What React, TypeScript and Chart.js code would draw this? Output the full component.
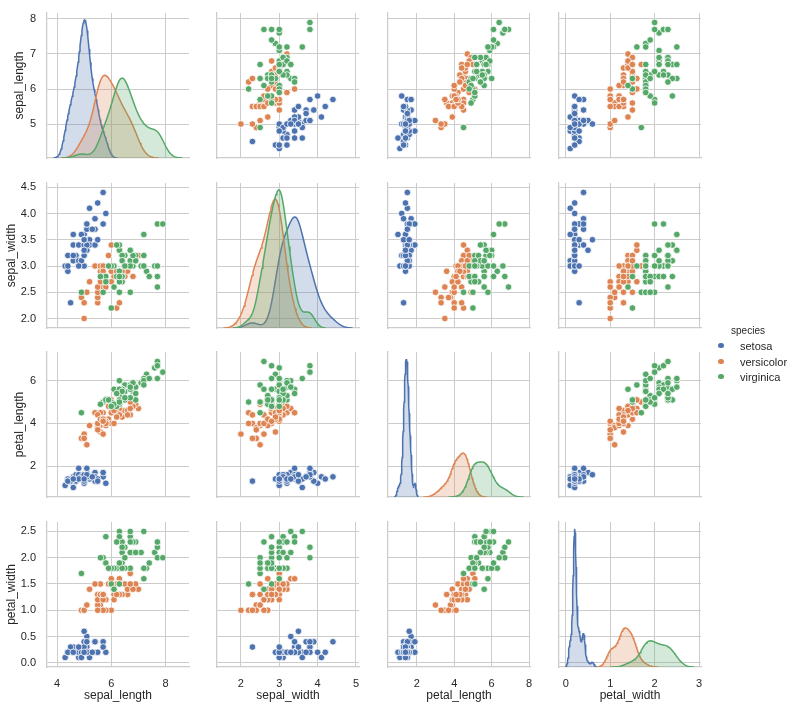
import React, { useEffect, useRef } from 'react';
import { Chart, registerables } from 'chart.js';

Chart.register(...registerables);

// ---------------- DATA ----------------
const SPECIES = ['setosa', 'versicolor', 'virginica'];
const VARIABLES = ['sepal_length', 'sepal_width', 'petal_length', 'petal_width'];
const COLORS = ['#4C72B0', '#DD8452', '#55A868'];
const FILLS = ['rgba(76,114,176,0.25)', 'rgba(221,132,82,0.25)', 'rgba(85,168,104,0.25)'];

const setosaSepalLength = [5.1,4.9,4.7,4.6,5.0,5.4,4.6,5.0,4.4,4.9,5.4,4.8,4.8,4.3,5.8,5.7,5.4,5.1,5.7,5.1,5.4,5.1,4.6,5.1,4.8,5.0,5.0,5.2,5.2,4.7,4.8,5.4,5.2,5.5,4.9,5.0,5.5,4.9,4.4,5.1,5.0,4.5,4.4,5.0,5.1,4.8,5.1,4.6,5.3,5.0];
const setosaSepalWidth = [3.5,3.0,3.2,3.1,3.6,3.9,3.4,3.4,2.9,3.1,3.7,3.4,3.0,3.0,4.0,4.4,3.9,3.5,3.8,3.8,3.4,3.7,3.6,3.3,3.4,3.0,3.4,3.5,3.4,3.2,3.1,3.4,4.1,4.2,3.1,3.2,3.5,3.6,3.0,3.4,3.5,2.3,3.2,3.5,3.8,3.0,3.8,3.2,3.7,3.3];
const setosaPetalLength = [1.4,1.4,1.3,1.5,1.4,1.7,1.4,1.5,1.4,1.5,1.5,1.6,1.4,1.1,1.2,1.5,1.3,1.4,1.7,1.5,1.7,1.5,1.0,1.7,1.9,1.6,1.6,1.5,1.4,1.6,1.6,1.5,1.5,1.4,1.5,1.2,1.3,1.4,1.3,1.5,1.3,1.3,1.3,1.6,1.9,1.4,1.6,1.4,1.5,1.4];
const setosaPetalWidth = [0.2,0.2,0.2,0.2,0.2,0.4,0.3,0.2,0.2,0.1,0.2,0.2,0.1,0.1,0.2,0.4,0.4,0.3,0.3,0.3,0.2,0.4,0.2,0.5,0.2,0.2,0.4,0.2,0.2,0.2,0.2,0.4,0.1,0.2,0.2,0.2,0.2,0.1,0.2,0.2,0.3,0.3,0.2,0.6,0.4,0.3,0.2,0.2,0.2,0.2];

const versicolorSepalLength = [7.0,6.4,6.9,5.5,6.5,5.7,6.3,4.9,6.6,5.2,5.0,5.9,6.0,6.1,5.6,6.7,5.6,5.8,6.2,5.6,5.9,6.1,6.3,6.1,6.4,6.6,6.8,6.7,6.0,5.7,5.5,5.5,5.8,6.0,5.4,6.0,6.7,6.3,5.6,5.5,5.5,6.1,5.8,5.0,5.6,5.7,5.7,6.2,5.1,5.7];
const versicolorSepalWidth = [3.2,3.2,3.1,2.3,2.8,2.8,3.3,2.4,2.9,2.7,2.0,3.0,2.2,2.9,2.9,3.1,3.0,2.7,2.2,2.5,3.2,2.8,2.5,2.8,2.9,3.0,2.8,3.0,2.9,2.6,2.4,2.4,2.7,2.7,3.0,3.4,3.1,2.3,3.0,2.5,2.6,3.0,2.6,2.3,2.7,3.0,2.9,2.9,2.5,2.8];
const versicolorPetalLength = [4.7,4.5,4.9,4.0,4.6,4.5,4.7,3.3,4.6,3.9,3.5,4.2,4.0,4.7,3.6,4.4,4.5,4.1,4.5,3.9,4.8,4.0,4.9,4.7,4.3,4.4,4.8,5.0,4.5,3.5,3.8,3.7,3.9,5.1,4.5,4.5,4.7,4.4,4.1,4.0,4.4,4.6,4.0,3.3,4.2,4.2,4.2,4.3,3.0,4.1];
const versicolorPetalWidth = [1.4,1.5,1.5,1.3,1.5,1.3,1.6,1.0,1.3,1.4,1.0,1.5,1.0,1.4,1.3,1.4,1.5,1.0,1.5,1.1,1.8,1.3,1.5,1.2,1.3,1.4,1.4,1.7,1.5,1.0,1.1,1.0,1.2,1.6,1.5,1.6,1.5,1.3,1.3,1.3,1.2,1.4,1.2,1.0,1.3,1.2,1.3,1.3,1.1,1.3];

const virginicaSepalLength = [6.3,5.8,7.1,6.3,6.5,7.6,4.9,7.3,6.7,7.2,6.5,6.4,6.8,5.7,5.8,6.4,6.5,7.7,7.7,6.0,6.9,5.6,7.7,6.3,6.7,7.2,6.2,6.1,6.4,7.2,7.4,7.9,6.4,6.3,6.1,7.7,6.3,6.4,6.0,6.9,6.7,6.9,5.8,6.8,6.7,6.7,6.3,6.5,6.2,5.9];
const virginicaSepalWidth = [3.3,2.7,3.0,2.9,3.0,3.0,2.5,2.9,2.5,3.6,3.2,2.7,3.0,2.5,2.8,3.2,3.0,3.8,2.6,2.2,3.2,2.8,2.8,2.7,3.3,3.2,2.8,3.0,2.8,3.0,2.8,3.8,2.8,2.8,2.6,3.0,3.4,3.1,3.0,3.1,3.1,3.1,2.7,3.2,3.3,3.0,2.5,3.0,3.4,3.0];
const virginicaPetalLength = [6.0,5.1,5.9,5.6,5.8,6.6,4.5,6.3,5.8,6.1,5.1,5.3,5.5,5.0,5.1,5.3,5.5,6.7,6.9,5.0,5.7,4.9,6.7,4.9,5.7,6.0,4.8,4.9,5.6,5.8,6.1,6.4,5.6,5.1,5.6,6.1,5.6,5.5,4.8,5.4,5.6,5.1,5.1,5.9,5.7,5.2,5.0,5.2,5.4,5.1];
const virginicaPetalWidth = [2.5,1.9,2.1,1.8,2.2,2.1,1.7,1.8,1.8,2.5,2.0,1.9,2.1,2.0,2.4,2.3,1.8,2.2,2.3,1.5,2.3,2.0,2.0,1.8,2.1,1.8,1.8,1.8,2.1,1.6,1.9,2.0,2.2,1.5,1.4,2.3,2.4,1.8,1.8,2.1,2.4,2.3,1.9,2.3,2.5,2.3,1.9,2.0,2.3,1.8];

// tick values / labels
const sepalLengthXTicks = [4, 6, 8];
const sepalLengthXLabels = ['4', '6', '8'];
const sepalLengthYTicks = [5, 6, 7, 8];
const sepalLengthYLabels = ['5', '6', '7', '8'];
const sepalWidthXTicks = [2, 3, 4, 5];
const sepalWidthXLabels = ['2', '3', '4', '5'];
const sepalWidthYTicks = [2.0, 2.5, 3.0, 3.5, 4.0, 4.5];
const sepalWidthYLabels = ['2.0', '2.5', '3.0', '3.5', '4.0', '4.5'];
const petalLengthXTicks = [2, 4, 6, 8];
const petalLengthXLabels = ['2', '4', '6', '8'];
const petalLengthYTicks = [2, 4, 6];
const petalLengthYLabels = ['2', '4', '6'];
const petalWidthXTicks = [0, 1, 2, 3];
const petalWidthXLabels = ['0', '1', '2', '3'];
const petalWidthYTicks = [0.0, 0.5, 1.0, 1.5, 2.0, 2.5];
const petalWidthYLabels = ['0.0', '0.5', '1.0', '1.5', '2.0', '2.5'];

const SERIES: number[][][] = [
  [setosaSepalLength, setosaSepalWidth, setosaPetalLength, setosaPetalWidth],
  [versicolorSepalLength, versicolorSepalWidth, versicolorPetalLength, versicolorPetalWidth],
  [virginicaSepalLength, virginicaSepalWidth, virginicaPetalLength, virginicaPetalWidth],
];
const X_TICKS = [sepalLengthXTicks, sepalWidthXTicks, petalLengthXTicks, petalWidthXTicks];
const X_LABELS = [sepalLengthXLabels, sepalWidthXLabels, petalLengthXLabels, petalWidthXLabels];
const Y_TICKS = [sepalLengthYTicks, sepalWidthYTicks, petalLengthYTicks, petalWidthYTicks];
const Y_LABELS = [sepalLengthYLabels, sepalWidthYLabels, petalLengthYLabels, petalWidthYLabels];

// ---------------- LAYOUT / STYLE ----------------
const COL_LEFT = [47, 217, 388, 559];
const ROW_TOP = [13, 183, 352, 522];
const CELL_W = 142;
const CELL_H = 145;
const PAD_L = 47;
const PAD_T = 6;
const PAD_R = 8;
const PAD_B = 40;
const Y_TITLE_PAD = [12, 4, 12, 4];
const GRID = '#cccccc';
const TEXT = '#262626';
const FONT = "'Liberation Sans', Arial, sans-serif";

// ---------------- KDE (seaborn/statsmodels style, Scott bandwidth) ----------------
function percentile(sorted: number[], p: number) {
  const pos = (sorted.length - 1) * p;
  const lo = Math.floor(pos);
  const hi = Math.ceil(pos);
  return sorted[lo] + (sorted[hi] - sorted[lo]) * (pos - lo);
}
function scottBw(xs: number[]) {
  const n = xs.length;
  const mean = xs.reduce((a, b) => a + b, 0) / n;
  const sd = Math.sqrt(xs.reduce((a, b) => a + (b - mean) * (b - mean), 0) / (n - 1));
  const s = [...xs].sort((a, b) => a - b);
  const iqr = (percentile(s, 0.75) - percentile(s, 0.25)) / 1.349;
  const A = iqr > 0 ? Math.min(sd, iqr) : sd;
  return 1.059 * A * Math.pow(n, -0.2);
}
function kde(xs: number[]) {
  const bw = scottBw(xs);
  const n = xs.length;
  const lo = Math.min(...xs) - 3 * bw;
  const hi = Math.max(...xs) + 3 * bw;
  const pts: { x: number; y: number }[] = [];
  let peak = 0;
  const G = 100;
  for (let i = 0; i < G; i++) {
    const x = lo + ((hi - lo) * i) / (G - 1);
    let s = 0;
    for (const v of xs) {
      const z = (x - v) / bw;
      s += Math.exp(-0.5 * z * z);
    }
    const y = s / (n * bw * Math.sqrt(2 * Math.PI));
    if (y > peak) peak = y;
    pts.push({ x, y });
  }
  return { pts, lo, hi, peak };
}

const KDES = VARIABLES.map((_, v) => SERIES.map((sp) => kde(sp[v])));
const X_RANGE = VARIABLES.map((_, v) => {
  const lo = Math.min(...KDES[v].map((k) => k.lo));
  const hi = Math.max(...KDES[v].map((k) => k.hi));
  const m = 0.05 * (hi - lo);
  return [lo - m, hi + m];
});
const Y_RANGE = VARIABLES.map((_, v) => {
  const all = SERIES.flatMap((sp) => sp[v]);
  const lo = Math.min(...all);
  const hi = Math.max(...all);
  const m = 0.075 * (hi - lo);
  return [lo - m, hi + m];
});
const DIAG_MAX = VARIABLES.map((_, v) => Math.max(...KDES[v].map((k) => k.peak)) * 1.05);

function zeroPad(s: any) {
  s.paddingTop = 0;
  s.paddingBottom = 0;
  s.paddingLeft = 0;
  s.paddingRight = 0;
}

function makeConfig(r: number, c: number): any {
  const diag = r === c;
  const scales: any = {
    x: {
      type: 'linear',
      min: X_RANGE[c][0],
      max: X_RANGE[c][1],
      afterBuildTicks: (s: any) => {
        s.ticks = X_TICKS[c].map((v) => ({ value: v }));
      },
      afterFit: (s: any) => {
        s.height = PAD_B;
        zeroPad(s);
      },
      grid: { color: GRID, lineWidth: 1, drawTicks: false },
      border: { display: true, color: GRID, width: 1.25 },
      ticks: {
        display: r === 3,
        autoSkip: false,
        maxRotation: 0,
        padding: 10,
        color: TEXT,
        font: { family: FONT, size: 11 },
        callback: (_v: any, i: number) => X_LABELS[c][i],
      },
      title: {
        display: r === 3,
        text: VARIABLES[c],
        color: TEXT,
        font: { family: FONT, size: 12 },
        padding: { top: 0, bottom: 4 },
      },
    },
    y: {
      type: 'linear',
      position: 'left',
      min: Y_RANGE[r][0],
      max: Y_RANGE[r][1],
      afterBuildTicks: (s: any) => {
        s.ticks = Y_TICKS[r].map((v) => ({ value: v }));
      },
      afterFit: (s: any) => {
        s.width = PAD_L;
        zeroPad(s);
      },
      grid: { color: GRID, lineWidth: 1, drawTicks: false },
      border: { display: true, color: GRID, width: 1.25 },
      ticks: {
        display: c === 0,
        autoSkip: false,
        padding: 11,
        color: TEXT,
        font: { family: FONT, size: 11 },
        callback: (_v: any, i: number) => Y_LABELS[r][i],
      },
      title: {
        display: c === 0,
        text: VARIABLES[r],
        color: TEXT,
        font: { family: FONT, size: 12 },
        padding: { top: Y_TITLE_PAD[r], bottom: 0 },
      },
    },
  };
  let datasets: any[];
  if (diag) {
    scales.yd = { type: 'linear', display: false, min: 0, max: DIAG_MAX[c] };
    datasets = SPECIES.map((name, s) => ({
      label: name,
      data: KDES[c][s].pts,
      yAxisID: 'yd',
      borderColor: COLORS[s],
      backgroundColor: FILLS[s],
      borderWidth: 1.5,
      pointRadius: 0,
      fill: 'origin',
      tension: 0,
      order: 3 - s,
    }));
  } else {
    datasets = SPECIES.map((name, s) => ({
      label: name,
      data: SERIES[s][c].map((x, i) => ({ x, y: SERIES[s][r][i] })),
      backgroundColor: COLORS[s],
      borderColor: '#ffffff',
      borderWidth: 0.8,
      pointRadius: 3.3,
      order: 3 - s,
    }));
  }
  return {
    type: diag ? 'line' : 'scatter',
    data: { datasets },
    options: {
      responsive: false,
      animation: false,
      events: [],
      layout: { padding: { top: PAD_T, right: PAD_R, left: 0, bottom: 0 } },
      plugins: { legend: { display: false }, tooltip: { enabled: false } },
      scales,
    },
  };
}

function Cell({ r, c }: { r: number; c: number }) {
  const ref = useRef<HTMLCanvasElement>(null);
  const w = PAD_L + CELL_W + PAD_R;
  const h = PAD_T + CELL_H + PAD_B;
  useEffect(() => {
    const chart = new Chart(ref.current as HTMLCanvasElement, makeConfig(r, c));
    return () => chart.destroy();
  }, [r, c]);
  return (
    <canvas
      ref={ref}
      width={w}
      height={h}
      style={{
        position: 'absolute',
        left: COL_LEFT[c] - PAD_L,
        top: ROW_TOP[r] - PAD_T,
        width: w,
        height: h,
      }}
    />
  );
}

const LEGEND_Y = [345.7, 361.7, 376.5];

export default function App() {
  const cells: React.ReactNode[] = [];
  for (let r = 0; r < 4; r++) for (let c = 0; c < 4; c++) cells.push(<Cell key={`${r}-${c}`} r={r} c={c} />);
  return (
    <div
      style={{
        position: 'absolute',
        left: 0,
        top: 0,
        width: 796,
        height: 708,
        overflow: 'hidden',
        background: '#ffffff',
        fontFamily: FONT,
        color: TEXT,
      }}
    >
      {cells}
      <div
        style={{
          position: 'absolute',
          left: 708,
          top: 324.7,
          width: 80,
          textAlign: 'center',
          fontSize: 10,
          lineHeight: '12px',
        }}
      >
        species
      </div>
      {SPECIES.map((name, s) => (
        <React.Fragment key={name}>
          <div
            style={{
              position: 'absolute',
              left: 718,
              top: LEGEND_Y[s] - 2.75,
              width: 5.5,
              height: 5.5,
              borderRadius: '50%',
              background: COLORS[s],
            }}
          />
          <div
            style={{
              position: 'absolute',
              left: 740,
              top: LEGEND_Y[s] - 7,
              fontSize: 11,
              lineHeight: '14px',
              whiteSpace: 'nowrap',
            }}
          >
            {name}
          </div>
        </React.Fragment>
      ))}
    </div>
  );
}
